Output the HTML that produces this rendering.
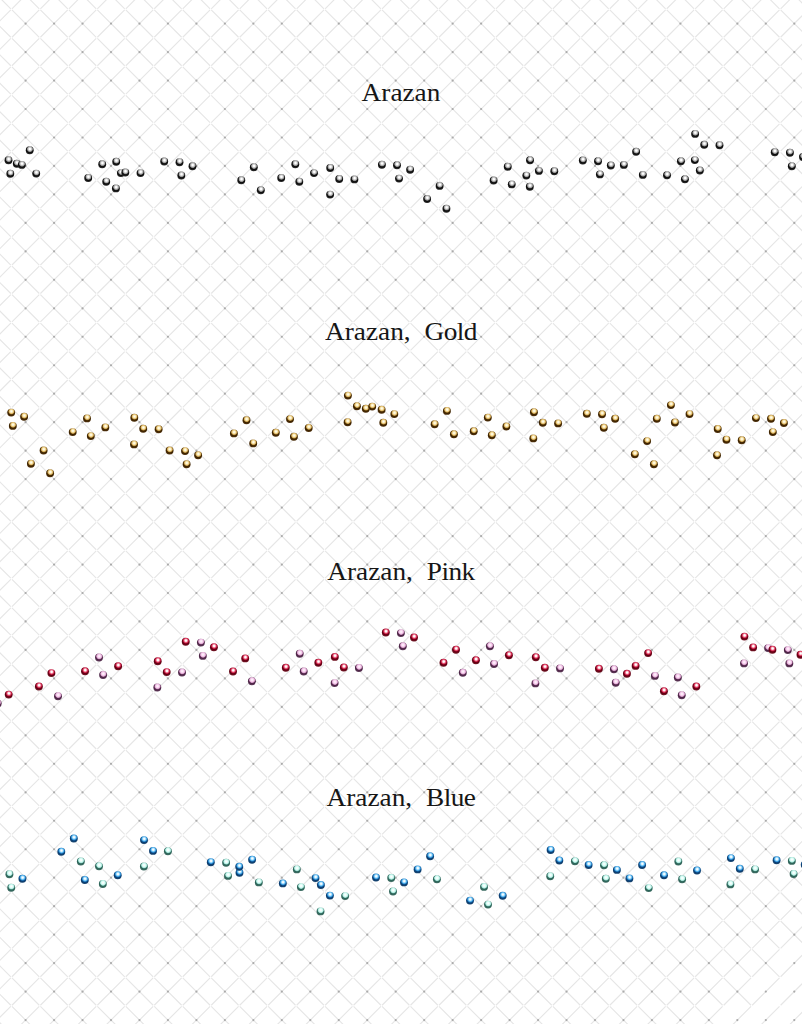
<!DOCTYPE html>
<html><head><meta charset="utf-8"><title>Arazan</title>
<style>
html,body{margin:0;padding:0;background:#fff;}
body{width:802px;height:1024px;position:relative;overflow:hidden;}
svg{position:absolute;left:0;top:0;}
.t{position:absolute;left:0;width:802px;text-align:center;font-family:"Liberation Serif","Noto Serif CJK SC",serif;font-size:25.5px;line-height:30px;transform:scaleX(1.07);word-spacing:6.6px;transform-origin:401px 0;color:#161616;white-space:pre;}
</style></head><body>
<svg width="802" height="1024" viewBox="0 0 802 1024">
<defs>
<radialGradient id="gs" cx="0.53" cy="0.34" r="0.58" fx="0.53" fy="0.34"><stop offset="0" stop-color="#ffffff"/><stop offset="0.15" stop-color="#ffffff"/><stop offset="0.32" stop-color="#d8d8d8"/><stop offset="0.48" stop-color="#a8a8a8"/><stop offset="0.58" stop-color="#848484"/><stop offset="0.67" stop-color="#2a2a2a"/><stop offset="0.8" stop-color="#0a0a0a"/><stop offset="1" stop-color="#222222"/></radialGradient>
<radialGradient id="gg" cx="0.53" cy="0.34" r="0.58" fx="0.53" fy="0.34"><stop offset="0" stop-color="#fffef4"/><stop offset="0.15" stop-color="#fff8dc"/><stop offset="0.32" stop-color="#f8e6b0"/><stop offset="0.48" stop-color="#e0bc6c"/><stop offset="0.58" stop-color="#bc9448"/><stop offset="0.67" stop-color="#6a460c"/><stop offset="0.8" stop-color="#3a2200"/><stop offset="1" stop-color="#4a2c08"/></radialGradient>
<radialGradient id="gr" cx="0.53" cy="0.34" r="0.58" fx="0.53" fy="0.34"><stop offset="0" stop-color="#ffffff"/><stop offset="0.18" stop-color="#fff2f4"/><stop offset="0.32" stop-color="#f4a4b6"/><stop offset="0.45" stop-color="#e04c6c"/><stop offset="0.57" stop-color="#c41c42"/><stop offset="0.67" stop-color="#8a0020"/><stop offset="0.8" stop-color="#5e0012"/><stop offset="1" stop-color="#6e1020"/></radialGradient>
<radialGradient id="gp" cx="0.53" cy="0.34" r="0.58" fx="0.53" fy="0.34"><stop offset="0" stop-color="#fff8fd"/><stop offset="0.22" stop-color="#fde4f7"/><stop offset="0.4" stop-color="#f4cbea"/><stop offset="0.52" stop-color="#e0aad4"/><stop offset="0.6" stop-color="#c088b4"/><stop offset="0.68" stop-color="#744068"/><stop offset="0.8" stop-color="#4a2244"/><stop offset="1" stop-color="#5a3454"/></radialGradient>
<radialGradient id="gb" cx="0.53" cy="0.34" r="0.58" fx="0.53" fy="0.34"><stop offset="0" stop-color="#ffffff"/><stop offset="0.16" stop-color="#eefaff"/><stop offset="0.34" stop-color="#a4dcfc"/><stop offset="0.48" stop-color="#58b4ec"/><stop offset="0.58" stop-color="#3090d4"/><stop offset="0.67" stop-color="#1466a8"/><stop offset="0.8" stop-color="#0a3e74"/><stop offset="1" stop-color="#14426e"/></radialGradient>
<radialGradient id="gt" cx="0.53" cy="0.34" r="0.58" fx="0.53" fy="0.34"><stop offset="0" stop-color="#ffffff"/><stop offset="0.2" stop-color="#f0fffd"/><stop offset="0.38" stop-color="#d6fcf4"/><stop offset="0.5" stop-color="#b8eee4"/><stop offset="0.59" stop-color="#98d6ca"/><stop offset="0.67" stop-color="#4e8c80"/><stop offset="0.8" stop-color="#2a6458"/><stop offset="1" stop-color="#3a6a60"/></radialGradient>
</defs>
<g>
<g stroke="#e6e6e6" stroke-width="1.15" stroke-dasharray="38.663 1.6" stroke-dashoffset="39.463" fill="none">
<line x1="-1639.89" y1="-588.51" x2="353.00" y2="1404.39"/><line x1="-1639.89" y1="-616.97" x2="353.00" y2="1375.93"/><line x1="-1611.42" y1="-616.98" x2="381.47" y2="1375.92"/><line x1="-1611.42" y1="-645.44" x2="381.48" y2="1347.45"/><line x1="-1582.95" y1="-645.45" x2="409.94" y2="1347.45"/><line x1="-1582.95" y1="-673.91" x2="409.95" y2="1318.99"/><line x1="-1554.49" y1="-673.92" x2="438.41" y2="1318.98"/><line x1="-1554.48" y1="-702.38" x2="438.42" y2="1290.51"/><line x1="-1526.02" y1="-702.38" x2="466.88" y2="1290.51"/><line x1="-1526.01" y1="-730.86" x2="466.89" y2="1262.05"/><line x1="-1497.55" y1="-730.86" x2="495.35" y2="1262.04"/><line x1="-1497.55" y1="-759.32" x2="495.36" y2="1233.58"/><line x1="-1469.08" y1="-759.33" x2="523.82" y2="1233.57"/><line x1="-1469.07" y1="-787.79" x2="523.83" y2="1205.11"/><line x1="-1440.61" y1="-787.80" x2="552.29" y2="1205.11"/><line x1="-1440.61" y1="-816.26" x2="552.30" y2="1176.63"/><line x1="-1412.13" y1="-816.27" x2="580.76" y2="1176.63"/><line x1="-1412.13" y1="-844.73" x2="580.77" y2="1148.16"/><line x1="-1383.66" y1="-844.74" x2="609.23" y2="1148.16"/><line x1="-1383.66" y1="-873.20" x2="609.24" y2="1119.70"/><line x1="-1355.20" y1="-873.21" x2="637.70" y2="1119.69"/><line x1="-1355.19" y1="-901.67" x2="637.71" y2="1091.22"/><line x1="-1326.72" y1="-901.68" x2="666.17" y2="1091.22"/><line x1="-1326.72" y1="-930.14" x2="666.18" y2="1062.76"/><line x1="-1298.26" y1="-930.14" x2="694.64" y2="1062.75"/><line x1="-1298.25" y1="-958.62" x2="694.64" y2="1034.29"/><line x1="-1269.79" y1="-958.62" x2="723.12" y2="1034.28"/><line x1="-1269.78" y1="-987.08" x2="723.12" y2="1005.82"/><line x1="-1241.32" y1="-987.09" x2="751.58" y2="1005.81"/><line x1="-1241.32" y1="-1015.55" x2="751.59" y2="977.35"/><line x1="-1212.85" y1="-1015.56" x2="780.05" y2="977.34"/><line x1="-1212.85" y1="-1044.02" x2="780.06" y2="948.88"/><line x1="-1184.38" y1="-1044.03" x2="808.52" y2="948.87"/><line x1="-1184.38" y1="-1072.49" x2="808.53" y2="920.40"/><line x1="-1155.90" y1="-1072.50" x2="836.99" y2="920.40"/><line x1="-1155.90" y1="-1100.96" x2="837.00" y2="891.94"/><line x1="-1127.43" y1="-1100.97" x2="865.46" y2="891.93"/><line x1="-1127.43" y1="-1129.43" x2="865.47" y2="863.47"/><line x1="-1098.97" y1="-1129.43" x2="893.93" y2="863.46"/><line x1="-1098.96" y1="-1157.90" x2="893.94" y2="835.00"/><line x1="-1070.50" y1="-1157.90" x2="922.40" y2="834.99"/><line x1="-1070.49" y1="-1186.38" x2="922.40" y2="806.53"/><line x1="-1042.03" y1="-1186.38" x2="950.87" y2="806.52"/><line x1="-1042.02" y1="-1214.85" x2="950.88" y2="778.06"/><line x1="-1013.56" y1="-1214.85" x2="979.34" y2="778.05"/><line x1="-1013.55" y1="-1243.32" x2="979.35" y2="749.59"/><line x1="-985.09" y1="-1243.32" x2="1007.81" y2="749.58"/><line x1="-985.08" y1="-1271.78" x2="1007.82" y2="721.12"/><line x1="-956.62" y1="-1271.79" x2="1036.28" y2="721.12"/><line x1="-956.62" y1="-1300.25" x2="1036.29" y2="692.64"/><line x1="-928.14" y1="-1300.26" x2="1064.75" y2="692.64"/><line x1="-928.14" y1="-1328.72" x2="1064.76" y2="664.18"/><line x1="-899.68" y1="-1328.72" x2="1093.22" y2="664.17"/><line x1="-899.67" y1="-1357.19" x2="1093.22" y2="635.71"/><line x1="-871.21" y1="-1357.20" x2="1121.69" y2="635.70"/><line x1="-871.20" y1="-1385.66" x2="1121.70" y2="607.24"/><line x1="-842.74" y1="-1385.66" x2="1150.16" y2="607.23"/><line x1="-842.73" y1="-1414.13" x2="1150.16" y2="578.77"/><line x1="-814.27" y1="-1414.13" x2="1178.63" y2="578.76"/><line x1="-814.26" y1="-1442.61" x2="1178.63" y2="550.30"/><line x1="-785.80" y1="-1442.61" x2="1207.11" y2="550.29"/><line x1="-785.79" y1="-1471.07" x2="1207.11" y2="521.83"/><line x1="-757.33" y1="-1471.08" x2="1235.57" y2="521.82"/><line x1="-757.32" y1="-1499.55" x2="1235.58" y2="493.36"/><line x1="-728.86" y1="-1499.55" x2="1264.04" y2="493.35"/><line x1="-728.86" y1="-1528.01" x2="1264.05" y2="464.89"/><line x1="-700.38" y1="-1528.02" x2="1292.51" y2="464.88"/><line x1="-1155.90" y1="1148.16" x2="837.00" y2="-844.74"/><line x1="-1127.43" y1="1148.16" x2="865.46" y2="-844.73"/><line x1="-1127.43" y1="1176.63" x2="865.47" y2="-816.26"/><line x1="-1098.96" y1="1176.63" x2="893.93" y2="-816.26"/><line x1="-1098.96" y1="1205.10" x2="893.94" y2="-787.79"/><line x1="-1070.49" y1="1205.11" x2="922.40" y2="-787.79"/><line x1="-1070.49" y1="1233.57" x2="922.40" y2="-759.33"/><line x1="-1042.02" y1="1233.58" x2="950.87" y2="-759.32"/><line x1="-1042.02" y1="1262.04" x2="950.88" y2="-730.86"/><line x1="-1013.55" y1="1262.05" x2="979.34" y2="-730.85"/><line x1="-1013.55" y1="1290.51" x2="979.35" y2="-702.38"/><line x1="-985.08" y1="1290.51" x2="1007.81" y2="-702.38"/><line x1="-985.08" y1="1318.98" x2="1007.82" y2="-673.91"/><line x1="-956.62" y1="1318.98" x2="1036.28" y2="-673.91"/><line x1="-956.61" y1="1347.45" x2="1036.29" y2="-645.45"/><line x1="-928.14" y1="1347.45" x2="1064.75" y2="-645.44"/><line x1="-928.14" y1="1375.92" x2="1064.76" y2="-616.98"/><line x1="-899.67" y1="1375.92" x2="1093.22" y2="-616.97"/><line x1="-899.67" y1="1404.39" x2="1093.22" y2="-588.50"/><line x1="-871.20" y1="1404.39" x2="1121.69" y2="-588.50"/><line x1="-871.20" y1="1432.86" x2="1121.70" y2="-560.03"/><line x1="-842.73" y1="1432.87" x2="1150.16" y2="-560.03"/><line x1="-842.73" y1="1461.33" x2="1150.16" y2="-531.57"/><line x1="-814.26" y1="1461.34" x2="1178.63" y2="-531.56"/><line x1="-814.26" y1="1489.80" x2="1178.63" y2="-503.10"/><line x1="-785.79" y1="1489.80" x2="1207.11" y2="-503.09"/><line x1="-785.79" y1="1518.27" x2="1207.11" y2="-474.62"/><line x1="-757.32" y1="1518.28" x2="1235.57" y2="-474.62"/><line x1="-757.32" y1="1546.74" x2="1235.58" y2="-446.15"/><line x1="-728.86" y1="1546.74" x2="1264.04" y2="-446.15"/><line x1="-728.85" y1="1575.21" x2="1264.05" y2="-417.69"/><line x1="-700.38" y1="1575.21" x2="1292.51" y2="-417.68"/><line x1="-700.38" y1="1603.68" x2="1292.51" y2="-389.22"/><line x1="-671.91" y1="1603.68" x2="1320.98" y2="-389.21"/><line x1="-671.91" y1="1632.15" x2="1320.99" y2="-360.75"/><line x1="-643.44" y1="1632.15" x2="1349.45" y2="-360.74"/><line x1="-643.44" y1="1660.62" x2="1349.45" y2="-332.27"/><line x1="-614.98" y1="1660.62" x2="1377.92" y2="-332.27"/><line x1="-614.97" y1="1689.09" x2="1377.93" y2="-303.80"/><line x1="-586.50" y1="1689.09" x2="1406.39" y2="-303.80"/><line x1="-586.50" y1="1717.56" x2="1406.39" y2="-275.34"/><line x1="-558.03" y1="1717.57" x2="1434.86" y2="-275.33"/><line x1="-558.03" y1="1746.03" x2="1434.87" y2="-246.87"/><line x1="-529.56" y1="1746.03" x2="1463.34" y2="-246.86"/><line x1="-529.56" y1="1774.50" x2="1463.34" y2="-218.39"/><line x1="-501.09" y1="1774.51" x2="1491.80" y2="-218.39"/><line x1="-501.09" y1="1802.97" x2="1491.80" y2="-189.93"/><line x1="-472.62" y1="1802.97" x2="1520.27" y2="-189.92"/><line x1="-472.62" y1="1831.44" x2="1520.28" y2="-161.46"/><line x1="-444.15" y1="1831.44" x2="1548.74" y2="-161.45"/><line x1="-444.15" y1="1859.91" x2="1548.74" y2="-132.99"/><line x1="-415.68" y1="1859.91" x2="1577.21" y2="-132.98"/><line x1="-415.68" y1="1888.38" x2="1577.22" y2="-104.51"/><line x1="-387.21" y1="1888.38" x2="1605.68" y2="-104.51"/><line x1="-387.21" y1="1916.86" x2="1605.68" y2="-76.04"/><line x1="-358.75" y1="1916.86" x2="1634.15" y2="-76.04"/><line x1="-358.74" y1="1945.32" x2="1634.15" y2="-47.58"/><line x1="-330.27" y1="1945.32" x2="1662.62" y2="-47.57"/><line x1="-330.27" y1="1973.79" x2="1662.62" y2="-19.11"/><line x1="-301.80" y1="1973.80" x2="1691.09" y2="-19.10"/><line x1="-301.80" y1="2002.26" x2="1691.10" y2="9.37"/><line x1="-273.33" y1="2002.26" x2="1719.57" y2="9.37"/><line x1="-273.33" y1="2030.73" x2="1719.57" y2="37.83"/><line x1="-244.87" y1="2030.73" x2="1748.03" y2="37.84"/><line x1="-244.86" y1="2059.20" x2="1748.03" y2="66.30"/><line x1="-216.39" y1="2059.20" x2="1776.50" y2="66.31"/>
</g>
<g fill="#aaaaaa">
<circle cx="25.60" cy="23.60" r="1.1"/><circle cx="25.60" cy="52.07" r="1.1"/><circle cx="25.60" cy="80.54" r="1.1"/><circle cx="25.60" cy="109.01" r="1.1"/><circle cx="25.60" cy="137.48" r="1.1"/><circle cx="25.60" cy="165.95" r="1.1"/><circle cx="25.60" cy="194.42" r="1.1"/><circle cx="25.60" cy="222.89" r="1.1"/><circle cx="25.60" cy="251.36" r="1.1"/><circle cx="25.60" cy="279.83" r="1.1"/><circle cx="25.60" cy="308.30" r="1.1"/><circle cx="25.60" cy="336.77" r="1.1"/><circle cx="25.60" cy="365.24" r="1.1"/><circle cx="25.60" cy="393.71" r="1.1"/><circle cx="25.60" cy="422.18" r="1.1"/><circle cx="25.60" cy="450.65" r="1.1"/><circle cx="25.60" cy="479.12" r="1.1"/><circle cx="25.60" cy="507.59" r="1.1"/><circle cx="25.60" cy="536.06" r="1.1"/><circle cx="25.60" cy="564.53" r="1.1"/><circle cx="25.60" cy="593.00" r="1.1"/><circle cx="25.60" cy="621.47" r="1.1"/><circle cx="25.60" cy="649.94" r="1.1"/><circle cx="25.60" cy="678.41" r="1.1"/><circle cx="25.60" cy="706.88" r="1.1"/><circle cx="25.60" cy="735.35" r="1.1"/><circle cx="25.60" cy="763.82" r="1.1"/><circle cx="25.60" cy="792.29" r="1.1"/><circle cx="25.60" cy="820.76" r="1.1"/><circle cx="25.60" cy="849.23" r="1.1"/><circle cx="25.60" cy="877.70" r="1.1"/><circle cx="25.60" cy="906.17" r="1.1"/><circle cx="25.60" cy="934.64" r="1.1"/><circle cx="25.60" cy="963.11" r="1.1"/><circle cx="25.60" cy="991.58" r="1.1"/><circle cx="25.60" cy="1020.05" r="1.1"/><circle cx="54.07" cy="23.60" r="1.1"/><circle cx="54.07" cy="52.07" r="1.1"/><circle cx="54.07" cy="80.54" r="1.1"/><circle cx="54.07" cy="109.01" r="1.1"/><circle cx="54.07" cy="137.48" r="1.1"/><circle cx="54.07" cy="165.95" r="1.1"/><circle cx="54.07" cy="194.42" r="1.1"/><circle cx="54.07" cy="222.89" r="1.1"/><circle cx="54.07" cy="251.36" r="1.1"/><circle cx="54.07" cy="279.83" r="1.1"/><circle cx="54.07" cy="308.30" r="1.1"/><circle cx="54.07" cy="336.77" r="1.1"/><circle cx="54.07" cy="365.24" r="1.1"/><circle cx="54.07" cy="393.71" r="1.1"/><circle cx="54.07" cy="422.18" r="1.1"/><circle cx="54.07" cy="450.65" r="1.1"/><circle cx="54.07" cy="479.12" r="1.1"/><circle cx="54.07" cy="507.59" r="1.1"/><circle cx="54.07" cy="536.06" r="1.1"/><circle cx="54.07" cy="564.53" r="1.1"/><circle cx="54.07" cy="593.00" r="1.1"/><circle cx="54.07" cy="621.47" r="1.1"/><circle cx="54.07" cy="649.94" r="1.1"/><circle cx="54.07" cy="678.41" r="1.1"/><circle cx="54.07" cy="706.88" r="1.1"/><circle cx="54.07" cy="735.35" r="1.1"/><circle cx="54.07" cy="763.82" r="1.1"/><circle cx="54.07" cy="792.29" r="1.1"/><circle cx="54.07" cy="820.76" r="1.1"/><circle cx="54.07" cy="849.23" r="1.1"/><circle cx="54.07" cy="877.70" r="1.1"/><circle cx="54.07" cy="906.17" r="1.1"/><circle cx="54.07" cy="934.64" r="1.1"/><circle cx="54.07" cy="963.11" r="1.1"/><circle cx="54.07" cy="991.58" r="1.1"/><circle cx="54.07" cy="1020.05" r="1.1"/><circle cx="82.54" cy="23.60" r="1.1"/><circle cx="82.54" cy="52.07" r="1.1"/><circle cx="82.54" cy="80.54" r="1.1"/><circle cx="82.54" cy="109.01" r="1.1"/><circle cx="82.54" cy="137.48" r="1.1"/><circle cx="82.54" cy="165.95" r="1.1"/><circle cx="82.54" cy="194.42" r="1.1"/><circle cx="82.54" cy="222.89" r="1.1"/><circle cx="82.54" cy="251.36" r="1.1"/><circle cx="82.54" cy="279.83" r="1.1"/><circle cx="82.54" cy="308.30" r="1.1"/><circle cx="82.54" cy="336.77" r="1.1"/><circle cx="82.54" cy="365.24" r="1.1"/><circle cx="82.54" cy="393.71" r="1.1"/><circle cx="82.54" cy="422.18" r="1.1"/><circle cx="82.54" cy="450.65" r="1.1"/><circle cx="82.54" cy="479.12" r="1.1"/><circle cx="82.54" cy="507.59" r="1.1"/><circle cx="82.54" cy="536.06" r="1.1"/><circle cx="82.54" cy="564.53" r="1.1"/><circle cx="82.54" cy="593.00" r="1.1"/><circle cx="82.54" cy="621.47" r="1.1"/><circle cx="82.54" cy="649.94" r="1.1"/><circle cx="82.54" cy="678.41" r="1.1"/><circle cx="82.54" cy="706.88" r="1.1"/><circle cx="82.54" cy="735.35" r="1.1"/><circle cx="82.54" cy="763.82" r="1.1"/><circle cx="82.54" cy="792.29" r="1.1"/><circle cx="82.54" cy="820.76" r="1.1"/><circle cx="82.54" cy="849.23" r="1.1"/><circle cx="82.54" cy="877.70" r="1.1"/><circle cx="82.54" cy="906.17" r="1.1"/><circle cx="82.54" cy="934.64" r="1.1"/><circle cx="82.54" cy="963.11" r="1.1"/><circle cx="82.54" cy="991.58" r="1.1"/><circle cx="82.54" cy="1020.05" r="1.1"/><circle cx="111.01" cy="23.60" r="1.1"/><circle cx="111.01" cy="52.07" r="1.1"/><circle cx="111.01" cy="80.54" r="1.1"/><circle cx="111.01" cy="109.01" r="1.1"/><circle cx="111.01" cy="137.48" r="1.1"/><circle cx="111.01" cy="165.95" r="1.1"/><circle cx="111.01" cy="194.42" r="1.1"/><circle cx="111.01" cy="222.89" r="1.1"/><circle cx="111.01" cy="251.36" r="1.1"/><circle cx="111.01" cy="279.83" r="1.1"/><circle cx="111.01" cy="308.30" r="1.1"/><circle cx="111.01" cy="336.77" r="1.1"/><circle cx="111.01" cy="365.24" r="1.1"/><circle cx="111.01" cy="393.71" r="1.1"/><circle cx="111.01" cy="422.18" r="1.1"/><circle cx="111.01" cy="450.65" r="1.1"/><circle cx="111.01" cy="479.12" r="1.1"/><circle cx="111.01" cy="507.59" r="1.1"/><circle cx="111.01" cy="536.06" r="1.1"/><circle cx="111.01" cy="564.53" r="1.1"/><circle cx="111.01" cy="593.00" r="1.1"/><circle cx="111.01" cy="621.47" r="1.1"/><circle cx="111.01" cy="649.94" r="1.1"/><circle cx="111.01" cy="678.41" r="1.1"/><circle cx="111.01" cy="706.88" r="1.1"/><circle cx="111.01" cy="735.35" r="1.1"/><circle cx="111.01" cy="763.82" r="1.1"/><circle cx="111.01" cy="792.29" r="1.1"/><circle cx="111.01" cy="820.76" r="1.1"/><circle cx="111.01" cy="849.23" r="1.1"/><circle cx="111.01" cy="877.70" r="1.1"/><circle cx="111.01" cy="906.17" r="1.1"/><circle cx="111.01" cy="934.64" r="1.1"/><circle cx="111.01" cy="963.11" r="1.1"/><circle cx="111.01" cy="991.58" r="1.1"/><circle cx="111.01" cy="1020.05" r="1.1"/><circle cx="139.48" cy="23.60" r="1.1"/><circle cx="139.48" cy="52.07" r="1.1"/><circle cx="139.48" cy="80.54" r="1.1"/><circle cx="139.48" cy="109.01" r="1.1"/><circle cx="139.48" cy="137.48" r="1.1"/><circle cx="139.48" cy="165.95" r="1.1"/><circle cx="139.48" cy="194.42" r="1.1"/><circle cx="139.48" cy="222.89" r="1.1"/><circle cx="139.48" cy="251.36" r="1.1"/><circle cx="139.48" cy="279.83" r="1.1"/><circle cx="139.48" cy="308.30" r="1.1"/><circle cx="139.48" cy="336.77" r="1.1"/><circle cx="139.48" cy="365.24" r="1.1"/><circle cx="139.48" cy="393.71" r="1.1"/><circle cx="139.48" cy="422.18" r="1.1"/><circle cx="139.48" cy="450.65" r="1.1"/><circle cx="139.48" cy="479.12" r="1.1"/><circle cx="139.48" cy="507.59" r="1.1"/><circle cx="139.48" cy="536.06" r="1.1"/><circle cx="139.48" cy="564.53" r="1.1"/><circle cx="139.48" cy="593.00" r="1.1"/><circle cx="139.48" cy="621.47" r="1.1"/><circle cx="139.48" cy="649.94" r="1.1"/><circle cx="139.48" cy="678.41" r="1.1"/><circle cx="139.48" cy="706.88" r="1.1"/><circle cx="139.48" cy="735.35" r="1.1"/><circle cx="139.48" cy="763.82" r="1.1"/><circle cx="139.48" cy="792.29" r="1.1"/><circle cx="139.48" cy="820.76" r="1.1"/><circle cx="139.48" cy="849.23" r="1.1"/><circle cx="139.48" cy="877.70" r="1.1"/><circle cx="139.48" cy="906.17" r="1.1"/><circle cx="139.48" cy="934.64" r="1.1"/><circle cx="139.48" cy="963.11" r="1.1"/><circle cx="139.48" cy="991.58" r="1.1"/><circle cx="139.48" cy="1020.05" r="1.1"/><circle cx="167.95" cy="23.60" r="1.1"/><circle cx="167.95" cy="52.07" r="1.1"/><circle cx="167.95" cy="80.54" r="1.1"/><circle cx="167.95" cy="109.01" r="1.1"/><circle cx="167.95" cy="137.48" r="1.1"/><circle cx="167.95" cy="165.95" r="1.1"/><circle cx="167.95" cy="194.42" r="1.1"/><circle cx="167.95" cy="222.89" r="1.1"/><circle cx="167.95" cy="251.36" r="1.1"/><circle cx="167.95" cy="279.83" r="1.1"/><circle cx="167.95" cy="308.30" r="1.1"/><circle cx="167.95" cy="336.77" r="1.1"/><circle cx="167.95" cy="365.24" r="1.1"/><circle cx="167.95" cy="393.71" r="1.1"/><circle cx="167.95" cy="422.18" r="1.1"/><circle cx="167.95" cy="450.65" r="1.1"/><circle cx="167.95" cy="479.12" r="1.1"/><circle cx="167.95" cy="507.59" r="1.1"/><circle cx="167.95" cy="536.06" r="1.1"/><circle cx="167.95" cy="564.53" r="1.1"/><circle cx="167.95" cy="593.00" r="1.1"/><circle cx="167.95" cy="621.47" r="1.1"/><circle cx="167.95" cy="649.94" r="1.1"/><circle cx="167.95" cy="678.41" r="1.1"/><circle cx="167.95" cy="706.88" r="1.1"/><circle cx="167.95" cy="735.35" r="1.1"/><circle cx="167.95" cy="763.82" r="1.1"/><circle cx="167.95" cy="792.29" r="1.1"/><circle cx="167.95" cy="820.76" r="1.1"/><circle cx="167.95" cy="849.23" r="1.1"/><circle cx="167.95" cy="877.70" r="1.1"/><circle cx="167.95" cy="906.17" r="1.1"/><circle cx="167.95" cy="934.64" r="1.1"/><circle cx="167.95" cy="963.11" r="1.1"/><circle cx="167.95" cy="991.58" r="1.1"/><circle cx="167.95" cy="1020.05" r="1.1"/><circle cx="196.42" cy="23.60" r="1.1"/><circle cx="196.42" cy="52.07" r="1.1"/><circle cx="196.42" cy="80.54" r="1.1"/><circle cx="196.42" cy="109.01" r="1.1"/><circle cx="196.42" cy="137.48" r="1.1"/><circle cx="196.42" cy="165.95" r="1.1"/><circle cx="196.42" cy="194.42" r="1.1"/><circle cx="196.42" cy="222.89" r="1.1"/><circle cx="196.42" cy="251.36" r="1.1"/><circle cx="196.42" cy="279.83" r="1.1"/><circle cx="196.42" cy="308.30" r="1.1"/><circle cx="196.42" cy="336.77" r="1.1"/><circle cx="196.42" cy="365.24" r="1.1"/><circle cx="196.42" cy="393.71" r="1.1"/><circle cx="196.42" cy="422.18" r="1.1"/><circle cx="196.42" cy="450.65" r="1.1"/><circle cx="196.42" cy="479.12" r="1.1"/><circle cx="196.42" cy="507.59" r="1.1"/><circle cx="196.42" cy="536.06" r="1.1"/><circle cx="196.42" cy="564.53" r="1.1"/><circle cx="196.42" cy="593.00" r="1.1"/><circle cx="196.42" cy="621.47" r="1.1"/><circle cx="196.42" cy="649.94" r="1.1"/><circle cx="196.42" cy="678.41" r="1.1"/><circle cx="196.42" cy="706.88" r="1.1"/><circle cx="196.42" cy="735.35" r="1.1"/><circle cx="196.42" cy="763.82" r="1.1"/><circle cx="196.42" cy="792.29" r="1.1"/><circle cx="196.42" cy="820.76" r="1.1"/><circle cx="196.42" cy="849.23" r="1.1"/><circle cx="196.42" cy="877.70" r="1.1"/><circle cx="196.42" cy="906.17" r="1.1"/><circle cx="196.42" cy="934.64" r="1.1"/><circle cx="196.42" cy="963.11" r="1.1"/><circle cx="196.42" cy="991.58" r="1.1"/><circle cx="196.42" cy="1020.05" r="1.1"/><circle cx="224.89" cy="23.60" r="1.1"/><circle cx="224.89" cy="52.07" r="1.1"/><circle cx="224.89" cy="80.54" r="1.1"/><circle cx="224.89" cy="109.01" r="1.1"/><circle cx="224.89" cy="137.48" r="1.1"/><circle cx="224.89" cy="165.95" r="1.1"/><circle cx="224.89" cy="194.42" r="1.1"/><circle cx="224.89" cy="222.89" r="1.1"/><circle cx="224.89" cy="251.36" r="1.1"/><circle cx="224.89" cy="279.83" r="1.1"/><circle cx="224.89" cy="308.30" r="1.1"/><circle cx="224.89" cy="336.77" r="1.1"/><circle cx="224.89" cy="365.24" r="1.1"/><circle cx="224.89" cy="393.71" r="1.1"/><circle cx="224.89" cy="422.18" r="1.1"/><circle cx="224.89" cy="450.65" r="1.1"/><circle cx="224.89" cy="479.12" r="1.1"/><circle cx="224.89" cy="507.59" r="1.1"/><circle cx="224.89" cy="536.06" r="1.1"/><circle cx="224.89" cy="564.53" r="1.1"/><circle cx="224.89" cy="593.00" r="1.1"/><circle cx="224.89" cy="621.47" r="1.1"/><circle cx="224.89" cy="649.94" r="1.1"/><circle cx="224.89" cy="678.41" r="1.1"/><circle cx="224.89" cy="706.88" r="1.1"/><circle cx="224.89" cy="735.35" r="1.1"/><circle cx="224.89" cy="763.82" r="1.1"/><circle cx="224.89" cy="792.29" r="1.1"/><circle cx="224.89" cy="820.76" r="1.1"/><circle cx="224.89" cy="849.23" r="1.1"/><circle cx="224.89" cy="877.70" r="1.1"/><circle cx="224.89" cy="906.17" r="1.1"/><circle cx="224.89" cy="934.64" r="1.1"/><circle cx="224.89" cy="963.11" r="1.1"/><circle cx="224.89" cy="991.58" r="1.1"/><circle cx="224.89" cy="1020.05" r="1.1"/><circle cx="253.36" cy="23.60" r="1.1"/><circle cx="253.36" cy="52.07" r="1.1"/><circle cx="253.36" cy="80.54" r="1.1"/><circle cx="253.36" cy="109.01" r="1.1"/><circle cx="253.36" cy="137.48" r="1.1"/><circle cx="253.36" cy="165.95" r="1.1"/><circle cx="253.36" cy="194.42" r="1.1"/><circle cx="253.36" cy="222.89" r="1.1"/><circle cx="253.36" cy="251.36" r="1.1"/><circle cx="253.36" cy="279.83" r="1.1"/><circle cx="253.36" cy="308.30" r="1.1"/><circle cx="253.36" cy="336.77" r="1.1"/><circle cx="253.36" cy="365.24" r="1.1"/><circle cx="253.36" cy="393.71" r="1.1"/><circle cx="253.36" cy="422.18" r="1.1"/><circle cx="253.36" cy="450.65" r="1.1"/><circle cx="253.36" cy="479.12" r="1.1"/><circle cx="253.36" cy="507.59" r="1.1"/><circle cx="253.36" cy="536.06" r="1.1"/><circle cx="253.36" cy="564.53" r="1.1"/><circle cx="253.36" cy="593.00" r="1.1"/><circle cx="253.36" cy="621.47" r="1.1"/><circle cx="253.36" cy="649.94" r="1.1"/><circle cx="253.36" cy="678.41" r="1.1"/><circle cx="253.36" cy="706.88" r="1.1"/><circle cx="253.36" cy="735.35" r="1.1"/><circle cx="253.36" cy="763.82" r="1.1"/><circle cx="253.36" cy="792.29" r="1.1"/><circle cx="253.36" cy="820.76" r="1.1"/><circle cx="253.36" cy="849.23" r="1.1"/><circle cx="253.36" cy="877.70" r="1.1"/><circle cx="253.36" cy="906.17" r="1.1"/><circle cx="253.36" cy="934.64" r="1.1"/><circle cx="253.36" cy="963.11" r="1.1"/><circle cx="253.36" cy="991.58" r="1.1"/><circle cx="253.36" cy="1020.05" r="1.1"/><circle cx="281.83" cy="23.60" r="1.1"/><circle cx="281.83" cy="52.07" r="1.1"/><circle cx="281.83" cy="80.54" r="1.1"/><circle cx="281.83" cy="109.01" r="1.1"/><circle cx="281.83" cy="137.48" r="1.1"/><circle cx="281.83" cy="165.95" r="1.1"/><circle cx="281.83" cy="194.42" r="1.1"/><circle cx="281.83" cy="222.89" r="1.1"/><circle cx="281.83" cy="251.36" r="1.1"/><circle cx="281.83" cy="279.83" r="1.1"/><circle cx="281.83" cy="308.30" r="1.1"/><circle cx="281.83" cy="336.77" r="1.1"/><circle cx="281.83" cy="365.24" r="1.1"/><circle cx="281.83" cy="393.71" r="1.1"/><circle cx="281.83" cy="422.18" r="1.1"/><circle cx="281.83" cy="450.65" r="1.1"/><circle cx="281.83" cy="479.12" r="1.1"/><circle cx="281.83" cy="507.59" r="1.1"/><circle cx="281.83" cy="536.06" r="1.1"/><circle cx="281.83" cy="564.53" r="1.1"/><circle cx="281.83" cy="593.00" r="1.1"/><circle cx="281.83" cy="621.47" r="1.1"/><circle cx="281.83" cy="649.94" r="1.1"/><circle cx="281.83" cy="678.41" r="1.1"/><circle cx="281.83" cy="706.88" r="1.1"/><circle cx="281.83" cy="735.35" r="1.1"/><circle cx="281.83" cy="763.82" r="1.1"/><circle cx="281.83" cy="792.29" r="1.1"/><circle cx="281.83" cy="820.76" r="1.1"/><circle cx="281.83" cy="849.23" r="1.1"/><circle cx="281.83" cy="877.70" r="1.1"/><circle cx="281.83" cy="906.17" r="1.1"/><circle cx="281.83" cy="934.64" r="1.1"/><circle cx="281.83" cy="963.11" r="1.1"/><circle cx="281.83" cy="991.58" r="1.1"/><circle cx="281.83" cy="1020.05" r="1.1"/><circle cx="310.30" cy="23.60" r="1.1"/><circle cx="310.30" cy="52.07" r="1.1"/><circle cx="310.30" cy="80.54" r="1.1"/><circle cx="310.30" cy="109.01" r="1.1"/><circle cx="310.30" cy="137.48" r="1.1"/><circle cx="310.30" cy="165.95" r="1.1"/><circle cx="310.30" cy="194.42" r="1.1"/><circle cx="310.30" cy="222.89" r="1.1"/><circle cx="310.30" cy="251.36" r="1.1"/><circle cx="310.30" cy="279.83" r="1.1"/><circle cx="310.30" cy="308.30" r="1.1"/><circle cx="310.30" cy="336.77" r="1.1"/><circle cx="310.30" cy="365.24" r="1.1"/><circle cx="310.30" cy="393.71" r="1.1"/><circle cx="310.30" cy="422.18" r="1.1"/><circle cx="310.30" cy="450.65" r="1.1"/><circle cx="310.30" cy="479.12" r="1.1"/><circle cx="310.30" cy="507.59" r="1.1"/><circle cx="310.30" cy="536.06" r="1.1"/><circle cx="310.30" cy="564.53" r="1.1"/><circle cx="310.30" cy="593.00" r="1.1"/><circle cx="310.30" cy="621.47" r="1.1"/><circle cx="310.30" cy="649.94" r="1.1"/><circle cx="310.30" cy="678.41" r="1.1"/><circle cx="310.30" cy="706.88" r="1.1"/><circle cx="310.30" cy="735.35" r="1.1"/><circle cx="310.30" cy="763.82" r="1.1"/><circle cx="310.30" cy="792.29" r="1.1"/><circle cx="310.30" cy="820.76" r="1.1"/><circle cx="310.30" cy="849.23" r="1.1"/><circle cx="310.30" cy="877.70" r="1.1"/><circle cx="310.30" cy="906.17" r="1.1"/><circle cx="310.30" cy="934.64" r="1.1"/><circle cx="310.30" cy="963.11" r="1.1"/><circle cx="310.30" cy="991.58" r="1.1"/><circle cx="310.30" cy="1020.05" r="1.1"/><circle cx="338.77" cy="23.60" r="1.1"/><circle cx="338.77" cy="52.07" r="1.1"/><circle cx="338.77" cy="80.54" r="1.1"/><circle cx="338.77" cy="109.01" r="1.1"/><circle cx="338.77" cy="137.48" r="1.1"/><circle cx="338.77" cy="165.95" r="1.1"/><circle cx="338.77" cy="194.42" r="1.1"/><circle cx="338.77" cy="222.89" r="1.1"/><circle cx="338.77" cy="251.36" r="1.1"/><circle cx="338.77" cy="279.83" r="1.1"/><circle cx="338.77" cy="308.30" r="1.1"/><circle cx="338.77" cy="336.77" r="1.1"/><circle cx="338.77" cy="365.24" r="1.1"/><circle cx="338.77" cy="393.71" r="1.1"/><circle cx="338.77" cy="422.18" r="1.1"/><circle cx="338.77" cy="450.65" r="1.1"/><circle cx="338.77" cy="479.12" r="1.1"/><circle cx="338.77" cy="507.59" r="1.1"/><circle cx="338.77" cy="536.06" r="1.1"/><circle cx="338.77" cy="564.53" r="1.1"/><circle cx="338.77" cy="593.00" r="1.1"/><circle cx="338.77" cy="621.47" r="1.1"/><circle cx="338.77" cy="649.94" r="1.1"/><circle cx="338.77" cy="678.41" r="1.1"/><circle cx="338.77" cy="706.88" r="1.1"/><circle cx="338.77" cy="735.35" r="1.1"/><circle cx="338.77" cy="763.82" r="1.1"/><circle cx="338.77" cy="792.29" r="1.1"/><circle cx="338.77" cy="820.76" r="1.1"/><circle cx="338.77" cy="849.23" r="1.1"/><circle cx="338.77" cy="877.70" r="1.1"/><circle cx="338.77" cy="906.17" r="1.1"/><circle cx="338.77" cy="934.64" r="1.1"/><circle cx="338.77" cy="963.11" r="1.1"/><circle cx="338.77" cy="991.58" r="1.1"/><circle cx="338.77" cy="1020.05" r="1.1"/><circle cx="367.24" cy="23.60" r="1.1"/><circle cx="367.24" cy="52.07" r="1.1"/><circle cx="367.24" cy="80.54" r="1.1"/><circle cx="367.24" cy="109.01" r="1.1"/><circle cx="367.24" cy="137.48" r="1.1"/><circle cx="367.24" cy="165.95" r="1.1"/><circle cx="367.24" cy="194.42" r="1.1"/><circle cx="367.24" cy="222.89" r="1.1"/><circle cx="367.24" cy="251.36" r="1.1"/><circle cx="367.24" cy="279.83" r="1.1"/><circle cx="367.24" cy="308.30" r="1.1"/><circle cx="367.24" cy="336.77" r="1.1"/><circle cx="367.24" cy="365.24" r="1.1"/><circle cx="367.24" cy="393.71" r="1.1"/><circle cx="367.24" cy="422.18" r="1.1"/><circle cx="367.24" cy="450.65" r="1.1"/><circle cx="367.24" cy="479.12" r="1.1"/><circle cx="367.24" cy="507.59" r="1.1"/><circle cx="367.24" cy="536.06" r="1.1"/><circle cx="367.24" cy="564.53" r="1.1"/><circle cx="367.24" cy="593.00" r="1.1"/><circle cx="367.24" cy="621.47" r="1.1"/><circle cx="367.24" cy="649.94" r="1.1"/><circle cx="367.24" cy="678.41" r="1.1"/><circle cx="367.24" cy="706.88" r="1.1"/><circle cx="367.24" cy="735.35" r="1.1"/><circle cx="367.24" cy="763.82" r="1.1"/><circle cx="367.24" cy="792.29" r="1.1"/><circle cx="367.24" cy="820.76" r="1.1"/><circle cx="367.24" cy="849.23" r="1.1"/><circle cx="367.24" cy="877.70" r="1.1"/><circle cx="367.24" cy="906.17" r="1.1"/><circle cx="367.24" cy="934.64" r="1.1"/><circle cx="367.24" cy="963.11" r="1.1"/><circle cx="367.24" cy="991.58" r="1.1"/><circle cx="367.24" cy="1020.05" r="1.1"/><circle cx="395.71" cy="23.60" r="1.1"/><circle cx="395.71" cy="52.07" r="1.1"/><circle cx="395.71" cy="80.54" r="1.1"/><circle cx="395.71" cy="109.01" r="1.1"/><circle cx="395.71" cy="137.48" r="1.1"/><circle cx="395.71" cy="165.95" r="1.1"/><circle cx="395.71" cy="194.42" r="1.1"/><circle cx="395.71" cy="222.89" r="1.1"/><circle cx="395.71" cy="251.36" r="1.1"/><circle cx="395.71" cy="279.83" r="1.1"/><circle cx="395.71" cy="308.30" r="1.1"/><circle cx="395.71" cy="336.77" r="1.1"/><circle cx="395.71" cy="365.24" r="1.1"/><circle cx="395.71" cy="393.71" r="1.1"/><circle cx="395.71" cy="422.18" r="1.1"/><circle cx="395.71" cy="450.65" r="1.1"/><circle cx="395.71" cy="479.12" r="1.1"/><circle cx="395.71" cy="507.59" r="1.1"/><circle cx="395.71" cy="536.06" r="1.1"/><circle cx="395.71" cy="564.53" r="1.1"/><circle cx="395.71" cy="593.00" r="1.1"/><circle cx="395.71" cy="621.47" r="1.1"/><circle cx="395.71" cy="649.94" r="1.1"/><circle cx="395.71" cy="678.41" r="1.1"/><circle cx="395.71" cy="706.88" r="1.1"/><circle cx="395.71" cy="735.35" r="1.1"/><circle cx="395.71" cy="763.82" r="1.1"/><circle cx="395.71" cy="792.29" r="1.1"/><circle cx="395.71" cy="820.76" r="1.1"/><circle cx="395.71" cy="849.23" r="1.1"/><circle cx="395.71" cy="877.70" r="1.1"/><circle cx="395.71" cy="906.17" r="1.1"/><circle cx="395.71" cy="934.64" r="1.1"/><circle cx="395.71" cy="963.11" r="1.1"/><circle cx="395.71" cy="991.58" r="1.1"/><circle cx="395.71" cy="1020.05" r="1.1"/><circle cx="424.18" cy="23.60" r="1.1"/><circle cx="424.18" cy="52.07" r="1.1"/><circle cx="424.18" cy="80.54" r="1.1"/><circle cx="424.18" cy="109.01" r="1.1"/><circle cx="424.18" cy="137.48" r="1.1"/><circle cx="424.18" cy="165.95" r="1.1"/><circle cx="424.18" cy="194.42" r="1.1"/><circle cx="424.18" cy="222.89" r="1.1"/><circle cx="424.18" cy="251.36" r="1.1"/><circle cx="424.18" cy="279.83" r="1.1"/><circle cx="424.18" cy="308.30" r="1.1"/><circle cx="424.18" cy="336.77" r="1.1"/><circle cx="424.18" cy="365.24" r="1.1"/><circle cx="424.18" cy="393.71" r="1.1"/><circle cx="424.18" cy="422.18" r="1.1"/><circle cx="424.18" cy="450.65" r="1.1"/><circle cx="424.18" cy="479.12" r="1.1"/><circle cx="424.18" cy="507.59" r="1.1"/><circle cx="424.18" cy="536.06" r="1.1"/><circle cx="424.18" cy="564.53" r="1.1"/><circle cx="424.18" cy="593.00" r="1.1"/><circle cx="424.18" cy="621.47" r="1.1"/><circle cx="424.18" cy="649.94" r="1.1"/><circle cx="424.18" cy="678.41" r="1.1"/><circle cx="424.18" cy="706.88" r="1.1"/><circle cx="424.18" cy="735.35" r="1.1"/><circle cx="424.18" cy="763.82" r="1.1"/><circle cx="424.18" cy="792.29" r="1.1"/><circle cx="424.18" cy="820.76" r="1.1"/><circle cx="424.18" cy="849.23" r="1.1"/><circle cx="424.18" cy="877.70" r="1.1"/><circle cx="424.18" cy="906.17" r="1.1"/><circle cx="424.18" cy="934.64" r="1.1"/><circle cx="424.18" cy="963.11" r="1.1"/><circle cx="424.18" cy="991.58" r="1.1"/><circle cx="424.18" cy="1020.05" r="1.1"/><circle cx="452.65" cy="23.60" r="1.1"/><circle cx="452.65" cy="52.07" r="1.1"/><circle cx="452.65" cy="80.54" r="1.1"/><circle cx="452.65" cy="109.01" r="1.1"/><circle cx="452.65" cy="137.48" r="1.1"/><circle cx="452.65" cy="165.95" r="1.1"/><circle cx="452.65" cy="194.42" r="1.1"/><circle cx="452.65" cy="222.89" r="1.1"/><circle cx="452.65" cy="251.36" r="1.1"/><circle cx="452.65" cy="279.83" r="1.1"/><circle cx="452.65" cy="308.30" r="1.1"/><circle cx="452.65" cy="336.77" r="1.1"/><circle cx="452.65" cy="365.24" r="1.1"/><circle cx="452.65" cy="393.71" r="1.1"/><circle cx="452.65" cy="422.18" r="1.1"/><circle cx="452.65" cy="450.65" r="1.1"/><circle cx="452.65" cy="479.12" r="1.1"/><circle cx="452.65" cy="507.59" r="1.1"/><circle cx="452.65" cy="536.06" r="1.1"/><circle cx="452.65" cy="564.53" r="1.1"/><circle cx="452.65" cy="593.00" r="1.1"/><circle cx="452.65" cy="621.47" r="1.1"/><circle cx="452.65" cy="649.94" r="1.1"/><circle cx="452.65" cy="678.41" r="1.1"/><circle cx="452.65" cy="706.88" r="1.1"/><circle cx="452.65" cy="735.35" r="1.1"/><circle cx="452.65" cy="763.82" r="1.1"/><circle cx="452.65" cy="792.29" r="1.1"/><circle cx="452.65" cy="820.76" r="1.1"/><circle cx="452.65" cy="849.23" r="1.1"/><circle cx="452.65" cy="877.70" r="1.1"/><circle cx="452.65" cy="906.17" r="1.1"/><circle cx="452.65" cy="934.64" r="1.1"/><circle cx="452.65" cy="963.11" r="1.1"/><circle cx="452.65" cy="991.58" r="1.1"/><circle cx="452.65" cy="1020.05" r="1.1"/><circle cx="481.12" cy="23.60" r="1.1"/><circle cx="481.12" cy="52.07" r="1.1"/><circle cx="481.12" cy="80.54" r="1.1"/><circle cx="481.12" cy="109.01" r="1.1"/><circle cx="481.12" cy="137.48" r="1.1"/><circle cx="481.12" cy="165.95" r="1.1"/><circle cx="481.12" cy="194.42" r="1.1"/><circle cx="481.12" cy="222.89" r="1.1"/><circle cx="481.12" cy="251.36" r="1.1"/><circle cx="481.12" cy="279.83" r="1.1"/><circle cx="481.12" cy="308.30" r="1.1"/><circle cx="481.12" cy="336.77" r="1.1"/><circle cx="481.12" cy="365.24" r="1.1"/><circle cx="481.12" cy="393.71" r="1.1"/><circle cx="481.12" cy="422.18" r="1.1"/><circle cx="481.12" cy="450.65" r="1.1"/><circle cx="481.12" cy="479.12" r="1.1"/><circle cx="481.12" cy="507.59" r="1.1"/><circle cx="481.12" cy="536.06" r="1.1"/><circle cx="481.12" cy="564.53" r="1.1"/><circle cx="481.12" cy="593.00" r="1.1"/><circle cx="481.12" cy="621.47" r="1.1"/><circle cx="481.12" cy="649.94" r="1.1"/><circle cx="481.12" cy="678.41" r="1.1"/><circle cx="481.12" cy="706.88" r="1.1"/><circle cx="481.12" cy="735.35" r="1.1"/><circle cx="481.12" cy="763.82" r="1.1"/><circle cx="481.12" cy="792.29" r="1.1"/><circle cx="481.12" cy="820.76" r="1.1"/><circle cx="481.12" cy="849.23" r="1.1"/><circle cx="481.12" cy="877.70" r="1.1"/><circle cx="481.12" cy="906.17" r="1.1"/><circle cx="481.12" cy="934.64" r="1.1"/><circle cx="481.12" cy="963.11" r="1.1"/><circle cx="481.12" cy="991.58" r="1.1"/><circle cx="481.12" cy="1020.05" r="1.1"/><circle cx="509.59" cy="23.60" r="1.1"/><circle cx="509.59" cy="52.07" r="1.1"/><circle cx="509.59" cy="80.54" r="1.1"/><circle cx="509.59" cy="109.01" r="1.1"/><circle cx="509.59" cy="137.48" r="1.1"/><circle cx="509.59" cy="165.95" r="1.1"/><circle cx="509.59" cy="194.42" r="1.1"/><circle cx="509.59" cy="222.89" r="1.1"/><circle cx="509.59" cy="251.36" r="1.1"/><circle cx="509.59" cy="279.83" r="1.1"/><circle cx="509.59" cy="308.30" r="1.1"/><circle cx="509.59" cy="336.77" r="1.1"/><circle cx="509.59" cy="365.24" r="1.1"/><circle cx="509.59" cy="393.71" r="1.1"/><circle cx="509.59" cy="422.18" r="1.1"/><circle cx="509.59" cy="450.65" r="1.1"/><circle cx="509.59" cy="479.12" r="1.1"/><circle cx="509.59" cy="507.59" r="1.1"/><circle cx="509.59" cy="536.06" r="1.1"/><circle cx="509.59" cy="564.53" r="1.1"/><circle cx="509.59" cy="593.00" r="1.1"/><circle cx="509.59" cy="621.47" r="1.1"/><circle cx="509.59" cy="649.94" r="1.1"/><circle cx="509.59" cy="678.41" r="1.1"/><circle cx="509.59" cy="706.88" r="1.1"/><circle cx="509.59" cy="735.35" r="1.1"/><circle cx="509.59" cy="763.82" r="1.1"/><circle cx="509.59" cy="792.29" r="1.1"/><circle cx="509.59" cy="820.76" r="1.1"/><circle cx="509.59" cy="849.23" r="1.1"/><circle cx="509.59" cy="877.70" r="1.1"/><circle cx="509.59" cy="906.17" r="1.1"/><circle cx="509.59" cy="934.64" r="1.1"/><circle cx="509.59" cy="963.11" r="1.1"/><circle cx="509.59" cy="991.58" r="1.1"/><circle cx="509.59" cy="1020.05" r="1.1"/><circle cx="538.06" cy="23.60" r="1.1"/><circle cx="538.06" cy="52.07" r="1.1"/><circle cx="538.06" cy="80.54" r="1.1"/><circle cx="538.06" cy="109.01" r="1.1"/><circle cx="538.06" cy="137.48" r="1.1"/><circle cx="538.06" cy="165.95" r="1.1"/><circle cx="538.06" cy="194.42" r="1.1"/><circle cx="538.06" cy="222.89" r="1.1"/><circle cx="538.06" cy="251.36" r="1.1"/><circle cx="538.06" cy="279.83" r="1.1"/><circle cx="538.06" cy="308.30" r="1.1"/><circle cx="538.06" cy="336.77" r="1.1"/><circle cx="538.06" cy="365.24" r="1.1"/><circle cx="538.06" cy="393.71" r="1.1"/><circle cx="538.06" cy="422.18" r="1.1"/><circle cx="538.06" cy="450.65" r="1.1"/><circle cx="538.06" cy="479.12" r="1.1"/><circle cx="538.06" cy="507.59" r="1.1"/><circle cx="538.06" cy="536.06" r="1.1"/><circle cx="538.06" cy="564.53" r="1.1"/><circle cx="538.06" cy="593.00" r="1.1"/><circle cx="538.06" cy="621.47" r="1.1"/><circle cx="538.06" cy="649.94" r="1.1"/><circle cx="538.06" cy="678.41" r="1.1"/><circle cx="538.06" cy="706.88" r="1.1"/><circle cx="538.06" cy="735.35" r="1.1"/><circle cx="538.06" cy="763.82" r="1.1"/><circle cx="538.06" cy="792.29" r="1.1"/><circle cx="538.06" cy="820.76" r="1.1"/><circle cx="538.06" cy="849.23" r="1.1"/><circle cx="538.06" cy="877.70" r="1.1"/><circle cx="538.06" cy="906.17" r="1.1"/><circle cx="538.06" cy="934.64" r="1.1"/><circle cx="538.06" cy="963.11" r="1.1"/><circle cx="538.06" cy="991.58" r="1.1"/><circle cx="538.06" cy="1020.05" r="1.1"/><circle cx="566.53" cy="23.60" r="1.1"/><circle cx="566.53" cy="52.07" r="1.1"/><circle cx="566.53" cy="80.54" r="1.1"/><circle cx="566.53" cy="109.01" r="1.1"/><circle cx="566.53" cy="137.48" r="1.1"/><circle cx="566.53" cy="165.95" r="1.1"/><circle cx="566.53" cy="194.42" r="1.1"/><circle cx="566.53" cy="222.89" r="1.1"/><circle cx="566.53" cy="251.36" r="1.1"/><circle cx="566.53" cy="279.83" r="1.1"/><circle cx="566.53" cy="308.30" r="1.1"/><circle cx="566.53" cy="336.77" r="1.1"/><circle cx="566.53" cy="365.24" r="1.1"/><circle cx="566.53" cy="393.71" r="1.1"/><circle cx="566.53" cy="422.18" r="1.1"/><circle cx="566.53" cy="450.65" r="1.1"/><circle cx="566.53" cy="479.12" r="1.1"/><circle cx="566.53" cy="507.59" r="1.1"/><circle cx="566.53" cy="536.06" r="1.1"/><circle cx="566.53" cy="564.53" r="1.1"/><circle cx="566.53" cy="593.00" r="1.1"/><circle cx="566.53" cy="621.47" r="1.1"/><circle cx="566.53" cy="649.94" r="1.1"/><circle cx="566.53" cy="678.41" r="1.1"/><circle cx="566.53" cy="706.88" r="1.1"/><circle cx="566.53" cy="735.35" r="1.1"/><circle cx="566.53" cy="763.82" r="1.1"/><circle cx="566.53" cy="792.29" r="1.1"/><circle cx="566.53" cy="820.76" r="1.1"/><circle cx="566.53" cy="849.23" r="1.1"/><circle cx="566.53" cy="877.70" r="1.1"/><circle cx="566.53" cy="906.17" r="1.1"/><circle cx="566.53" cy="934.64" r="1.1"/><circle cx="566.53" cy="963.11" r="1.1"/><circle cx="566.53" cy="991.58" r="1.1"/><circle cx="566.53" cy="1020.05" r="1.1"/><circle cx="595.00" cy="23.60" r="1.1"/><circle cx="595.00" cy="52.07" r="1.1"/><circle cx="595.00" cy="80.54" r="1.1"/><circle cx="595.00" cy="109.01" r="1.1"/><circle cx="595.00" cy="137.48" r="1.1"/><circle cx="595.00" cy="165.95" r="1.1"/><circle cx="595.00" cy="194.42" r="1.1"/><circle cx="595.00" cy="222.89" r="1.1"/><circle cx="595.00" cy="251.36" r="1.1"/><circle cx="595.00" cy="279.83" r="1.1"/><circle cx="595.00" cy="308.30" r="1.1"/><circle cx="595.00" cy="336.77" r="1.1"/><circle cx="595.00" cy="365.24" r="1.1"/><circle cx="595.00" cy="393.71" r="1.1"/><circle cx="595.00" cy="422.18" r="1.1"/><circle cx="595.00" cy="450.65" r="1.1"/><circle cx="595.00" cy="479.12" r="1.1"/><circle cx="595.00" cy="507.59" r="1.1"/><circle cx="595.00" cy="536.06" r="1.1"/><circle cx="595.00" cy="564.53" r="1.1"/><circle cx="595.00" cy="593.00" r="1.1"/><circle cx="595.00" cy="621.47" r="1.1"/><circle cx="595.00" cy="649.94" r="1.1"/><circle cx="595.00" cy="678.41" r="1.1"/><circle cx="595.00" cy="706.88" r="1.1"/><circle cx="595.00" cy="735.35" r="1.1"/><circle cx="595.00" cy="763.82" r="1.1"/><circle cx="595.00" cy="792.29" r="1.1"/><circle cx="595.00" cy="820.76" r="1.1"/><circle cx="595.00" cy="849.23" r="1.1"/><circle cx="595.00" cy="877.70" r="1.1"/><circle cx="595.00" cy="906.17" r="1.1"/><circle cx="595.00" cy="934.64" r="1.1"/><circle cx="595.00" cy="963.11" r="1.1"/><circle cx="595.00" cy="991.58" r="1.1"/><circle cx="595.00" cy="1020.05" r="1.1"/><circle cx="623.47" cy="23.60" r="1.1"/><circle cx="623.47" cy="52.07" r="1.1"/><circle cx="623.47" cy="80.54" r="1.1"/><circle cx="623.47" cy="109.01" r="1.1"/><circle cx="623.47" cy="137.48" r="1.1"/><circle cx="623.47" cy="165.95" r="1.1"/><circle cx="623.47" cy="194.42" r="1.1"/><circle cx="623.47" cy="222.89" r="1.1"/><circle cx="623.47" cy="251.36" r="1.1"/><circle cx="623.47" cy="279.83" r="1.1"/><circle cx="623.47" cy="308.30" r="1.1"/><circle cx="623.47" cy="336.77" r="1.1"/><circle cx="623.47" cy="365.24" r="1.1"/><circle cx="623.47" cy="393.71" r="1.1"/><circle cx="623.47" cy="422.18" r="1.1"/><circle cx="623.47" cy="450.65" r="1.1"/><circle cx="623.47" cy="479.12" r="1.1"/><circle cx="623.47" cy="507.59" r="1.1"/><circle cx="623.47" cy="536.06" r="1.1"/><circle cx="623.47" cy="564.53" r="1.1"/><circle cx="623.47" cy="593.00" r="1.1"/><circle cx="623.47" cy="621.47" r="1.1"/><circle cx="623.47" cy="649.94" r="1.1"/><circle cx="623.47" cy="678.41" r="1.1"/><circle cx="623.47" cy="706.88" r="1.1"/><circle cx="623.47" cy="735.35" r="1.1"/><circle cx="623.47" cy="763.82" r="1.1"/><circle cx="623.47" cy="792.29" r="1.1"/><circle cx="623.47" cy="820.76" r="1.1"/><circle cx="623.47" cy="849.23" r="1.1"/><circle cx="623.47" cy="877.70" r="1.1"/><circle cx="623.47" cy="906.17" r="1.1"/><circle cx="623.47" cy="934.64" r="1.1"/><circle cx="623.47" cy="963.11" r="1.1"/><circle cx="623.47" cy="991.58" r="1.1"/><circle cx="623.47" cy="1020.05" r="1.1"/><circle cx="651.94" cy="23.60" r="1.1"/><circle cx="651.94" cy="52.07" r="1.1"/><circle cx="651.94" cy="80.54" r="1.1"/><circle cx="651.94" cy="109.01" r="1.1"/><circle cx="651.94" cy="137.48" r="1.1"/><circle cx="651.94" cy="165.95" r="1.1"/><circle cx="651.94" cy="194.42" r="1.1"/><circle cx="651.94" cy="222.89" r="1.1"/><circle cx="651.94" cy="251.36" r="1.1"/><circle cx="651.94" cy="279.83" r="1.1"/><circle cx="651.94" cy="308.30" r="1.1"/><circle cx="651.94" cy="336.77" r="1.1"/><circle cx="651.94" cy="365.24" r="1.1"/><circle cx="651.94" cy="393.71" r="1.1"/><circle cx="651.94" cy="422.18" r="1.1"/><circle cx="651.94" cy="450.65" r="1.1"/><circle cx="651.94" cy="479.12" r="1.1"/><circle cx="651.94" cy="507.59" r="1.1"/><circle cx="651.94" cy="536.06" r="1.1"/><circle cx="651.94" cy="564.53" r="1.1"/><circle cx="651.94" cy="593.00" r="1.1"/><circle cx="651.94" cy="621.47" r="1.1"/><circle cx="651.94" cy="649.94" r="1.1"/><circle cx="651.94" cy="678.41" r="1.1"/><circle cx="651.94" cy="706.88" r="1.1"/><circle cx="651.94" cy="735.35" r="1.1"/><circle cx="651.94" cy="763.82" r="1.1"/><circle cx="651.94" cy="792.29" r="1.1"/><circle cx="651.94" cy="820.76" r="1.1"/><circle cx="651.94" cy="849.23" r="1.1"/><circle cx="651.94" cy="877.70" r="1.1"/><circle cx="651.94" cy="906.17" r="1.1"/><circle cx="651.94" cy="934.64" r="1.1"/><circle cx="651.94" cy="963.11" r="1.1"/><circle cx="651.94" cy="991.58" r="1.1"/><circle cx="651.94" cy="1020.05" r="1.1"/><circle cx="680.41" cy="23.60" r="1.1"/><circle cx="680.41" cy="52.07" r="1.1"/><circle cx="680.41" cy="80.54" r="1.1"/><circle cx="680.41" cy="109.01" r="1.1"/><circle cx="680.41" cy="137.48" r="1.1"/><circle cx="680.41" cy="165.95" r="1.1"/><circle cx="680.41" cy="194.42" r="1.1"/><circle cx="680.41" cy="222.89" r="1.1"/><circle cx="680.41" cy="251.36" r="1.1"/><circle cx="680.41" cy="279.83" r="1.1"/><circle cx="680.41" cy="308.30" r="1.1"/><circle cx="680.41" cy="336.77" r="1.1"/><circle cx="680.41" cy="365.24" r="1.1"/><circle cx="680.41" cy="393.71" r="1.1"/><circle cx="680.41" cy="422.18" r="1.1"/><circle cx="680.41" cy="450.65" r="1.1"/><circle cx="680.41" cy="479.12" r="1.1"/><circle cx="680.41" cy="507.59" r="1.1"/><circle cx="680.41" cy="536.06" r="1.1"/><circle cx="680.41" cy="564.53" r="1.1"/><circle cx="680.41" cy="593.00" r="1.1"/><circle cx="680.41" cy="621.47" r="1.1"/><circle cx="680.41" cy="649.94" r="1.1"/><circle cx="680.41" cy="678.41" r="1.1"/><circle cx="680.41" cy="706.88" r="1.1"/><circle cx="680.41" cy="735.35" r="1.1"/><circle cx="680.41" cy="763.82" r="1.1"/><circle cx="680.41" cy="792.29" r="1.1"/><circle cx="680.41" cy="820.76" r="1.1"/><circle cx="680.41" cy="849.23" r="1.1"/><circle cx="680.41" cy="877.70" r="1.1"/><circle cx="680.41" cy="906.17" r="1.1"/><circle cx="680.41" cy="934.64" r="1.1"/><circle cx="680.41" cy="963.11" r="1.1"/><circle cx="680.41" cy="991.58" r="1.1"/><circle cx="680.41" cy="1020.05" r="1.1"/><circle cx="708.88" cy="23.60" r="1.1"/><circle cx="708.88" cy="52.07" r="1.1"/><circle cx="708.88" cy="80.54" r="1.1"/><circle cx="708.88" cy="109.01" r="1.1"/><circle cx="708.88" cy="137.48" r="1.1"/><circle cx="708.88" cy="165.95" r="1.1"/><circle cx="708.88" cy="194.42" r="1.1"/><circle cx="708.88" cy="222.89" r="1.1"/><circle cx="708.88" cy="251.36" r="1.1"/><circle cx="708.88" cy="279.83" r="1.1"/><circle cx="708.88" cy="308.30" r="1.1"/><circle cx="708.88" cy="336.77" r="1.1"/><circle cx="708.88" cy="365.24" r="1.1"/><circle cx="708.88" cy="393.71" r="1.1"/><circle cx="708.88" cy="422.18" r="1.1"/><circle cx="708.88" cy="450.65" r="1.1"/><circle cx="708.88" cy="479.12" r="1.1"/><circle cx="708.88" cy="507.59" r="1.1"/><circle cx="708.88" cy="536.06" r="1.1"/><circle cx="708.88" cy="564.53" r="1.1"/><circle cx="708.88" cy="593.00" r="1.1"/><circle cx="708.88" cy="621.47" r="1.1"/><circle cx="708.88" cy="649.94" r="1.1"/><circle cx="708.88" cy="678.41" r="1.1"/><circle cx="708.88" cy="706.88" r="1.1"/><circle cx="708.88" cy="735.35" r="1.1"/><circle cx="708.88" cy="763.82" r="1.1"/><circle cx="708.88" cy="792.29" r="1.1"/><circle cx="708.88" cy="820.76" r="1.1"/><circle cx="708.88" cy="849.23" r="1.1"/><circle cx="708.88" cy="877.70" r="1.1"/><circle cx="708.88" cy="906.17" r="1.1"/><circle cx="708.88" cy="934.64" r="1.1"/><circle cx="708.88" cy="963.11" r="1.1"/><circle cx="708.88" cy="991.58" r="1.1"/><circle cx="708.88" cy="1020.05" r="1.1"/><circle cx="737.35" cy="23.60" r="1.1"/><circle cx="737.35" cy="52.07" r="1.1"/><circle cx="737.35" cy="80.54" r="1.1"/><circle cx="737.35" cy="109.01" r="1.1"/><circle cx="737.35" cy="137.48" r="1.1"/><circle cx="737.35" cy="165.95" r="1.1"/><circle cx="737.35" cy="194.42" r="1.1"/><circle cx="737.35" cy="222.89" r="1.1"/><circle cx="737.35" cy="251.36" r="1.1"/><circle cx="737.35" cy="279.83" r="1.1"/><circle cx="737.35" cy="308.30" r="1.1"/><circle cx="737.35" cy="336.77" r="1.1"/><circle cx="737.35" cy="365.24" r="1.1"/><circle cx="737.35" cy="393.71" r="1.1"/><circle cx="737.35" cy="422.18" r="1.1"/><circle cx="737.35" cy="450.65" r="1.1"/><circle cx="737.35" cy="479.12" r="1.1"/><circle cx="737.35" cy="507.59" r="1.1"/><circle cx="737.35" cy="536.06" r="1.1"/><circle cx="737.35" cy="564.53" r="1.1"/><circle cx="737.35" cy="593.00" r="1.1"/><circle cx="737.35" cy="621.47" r="1.1"/><circle cx="737.35" cy="649.94" r="1.1"/><circle cx="737.35" cy="678.41" r="1.1"/><circle cx="737.35" cy="706.88" r="1.1"/><circle cx="737.35" cy="735.35" r="1.1"/><circle cx="737.35" cy="763.82" r="1.1"/><circle cx="737.35" cy="792.29" r="1.1"/><circle cx="737.35" cy="820.76" r="1.1"/><circle cx="737.35" cy="849.23" r="1.1"/><circle cx="737.35" cy="877.70" r="1.1"/><circle cx="737.35" cy="906.17" r="1.1"/><circle cx="737.35" cy="934.64" r="1.1"/><circle cx="737.35" cy="963.11" r="1.1"/><circle cx="737.35" cy="991.58" r="1.1"/><circle cx="737.35" cy="1020.05" r="1.1"/><circle cx="765.82" cy="23.60" r="1.1"/><circle cx="765.82" cy="52.07" r="1.1"/><circle cx="765.82" cy="80.54" r="1.1"/><circle cx="765.82" cy="109.01" r="1.1"/><circle cx="765.82" cy="137.48" r="1.1"/><circle cx="765.82" cy="165.95" r="1.1"/><circle cx="765.82" cy="194.42" r="1.1"/><circle cx="765.82" cy="222.89" r="1.1"/><circle cx="765.82" cy="251.36" r="1.1"/><circle cx="765.82" cy="279.83" r="1.1"/><circle cx="765.82" cy="308.30" r="1.1"/><circle cx="765.82" cy="336.77" r="1.1"/><circle cx="765.82" cy="365.24" r="1.1"/><circle cx="765.82" cy="393.71" r="1.1"/><circle cx="765.82" cy="422.18" r="1.1"/><circle cx="765.82" cy="450.65" r="1.1"/><circle cx="765.82" cy="479.12" r="1.1"/><circle cx="765.82" cy="507.59" r="1.1"/><circle cx="765.82" cy="536.06" r="1.1"/><circle cx="765.82" cy="564.53" r="1.1"/><circle cx="765.82" cy="593.00" r="1.1"/><circle cx="765.82" cy="621.47" r="1.1"/><circle cx="765.82" cy="649.94" r="1.1"/><circle cx="765.82" cy="678.41" r="1.1"/><circle cx="765.82" cy="706.88" r="1.1"/><circle cx="765.82" cy="735.35" r="1.1"/><circle cx="765.82" cy="763.82" r="1.1"/><circle cx="765.82" cy="792.29" r="1.1"/><circle cx="765.82" cy="820.76" r="1.1"/><circle cx="765.82" cy="849.23" r="1.1"/><circle cx="765.82" cy="877.70" r="1.1"/><circle cx="765.82" cy="906.17" r="1.1"/><circle cx="765.82" cy="934.64" r="1.1"/><circle cx="765.82" cy="963.11" r="1.1"/><circle cx="765.82" cy="991.58" r="1.1"/><circle cx="765.82" cy="1020.05" r="1.1"/><circle cx="794.29" cy="23.60" r="1.1"/><circle cx="794.29" cy="52.07" r="1.1"/><circle cx="794.29" cy="80.54" r="1.1"/><circle cx="794.29" cy="109.01" r="1.1"/><circle cx="794.29" cy="137.48" r="1.1"/><circle cx="794.29" cy="165.95" r="1.1"/><circle cx="794.29" cy="194.42" r="1.1"/><circle cx="794.29" cy="222.89" r="1.1"/><circle cx="794.29" cy="251.36" r="1.1"/><circle cx="794.29" cy="279.83" r="1.1"/><circle cx="794.29" cy="308.30" r="1.1"/><circle cx="794.29" cy="336.77" r="1.1"/><circle cx="794.29" cy="365.24" r="1.1"/><circle cx="794.29" cy="393.71" r="1.1"/><circle cx="794.29" cy="422.18" r="1.1"/><circle cx="794.29" cy="450.65" r="1.1"/><circle cx="794.29" cy="479.12" r="1.1"/><circle cx="794.29" cy="507.59" r="1.1"/><circle cx="794.29" cy="536.06" r="1.1"/><circle cx="794.29" cy="564.53" r="1.1"/><circle cx="794.29" cy="593.00" r="1.1"/><circle cx="794.29" cy="621.47" r="1.1"/><circle cx="794.29" cy="649.94" r="1.1"/><circle cx="794.29" cy="678.41" r="1.1"/><circle cx="794.29" cy="706.88" r="1.1"/><circle cx="794.29" cy="735.35" r="1.1"/><circle cx="794.29" cy="763.82" r="1.1"/><circle cx="794.29" cy="792.29" r="1.1"/><circle cx="794.29" cy="820.76" r="1.1"/><circle cx="794.29" cy="849.23" r="1.1"/><circle cx="794.29" cy="877.70" r="1.1"/><circle cx="794.29" cy="906.17" r="1.1"/><circle cx="794.29" cy="934.64" r="1.1"/><circle cx="794.29" cy="963.11" r="1.1"/><circle cx="794.29" cy="991.58" r="1.1"/><circle cx="794.29" cy="1020.05" r="1.1"/>
</g>
</g>
<g>
<circle cx="29.7" cy="150.3" r="3.95" fill="url(#gs)"/><circle cx="8.5" cy="160.3" r="3.95" fill="url(#gs)"/><circle cx="16.8" cy="163.8" r="3.95" fill="url(#gs)"/><circle cx="21.8" cy="164.9" r="3.95" fill="url(#gs)"/><circle cx="10.3" cy="173.8" r="3.95" fill="url(#gs)"/><circle cx="36.2" cy="173.6" r="3.95" fill="url(#gs)"/><circle cx="88.2" cy="178.0" r="3.95" fill="url(#gs)"/><circle cx="102.2" cy="164.3" r="3.95" fill="url(#gs)"/><circle cx="116.2" cy="161.8" r="3.95" fill="url(#gs)"/><circle cx="106.2" cy="181.7" r="3.95" fill="url(#gs)"/><circle cx="115.9" cy="188.4" r="3.95" fill="url(#gs)"/><circle cx="120.9" cy="173.1" r="3.95" fill="url(#gs)"/><circle cx="125.3" cy="172.5" r="3.95" fill="url(#gs)"/><circle cx="140.5" cy="173.1" r="3.95" fill="url(#gs)"/><circle cx="164.2" cy="161.5" r="3.95" fill="url(#gs)"/><circle cx="179.5" cy="162.2" r="3.95" fill="url(#gs)"/><circle cx="181.3" cy="175.5" r="3.95" fill="url(#gs)"/><circle cx="192.5" cy="166.3" r="3.95" fill="url(#gs)"/><circle cx="253.8" cy="167.2" r="3.95" fill="url(#gs)"/><circle cx="241.3" cy="180.3" r="3.95" fill="url(#gs)"/><circle cx="260.8" cy="190.2" r="3.95" fill="url(#gs)"/><circle cx="281.2" cy="178.0" r="3.95" fill="url(#gs)"/><circle cx="295.3" cy="164.3" r="3.95" fill="url(#gs)"/><circle cx="299.3" cy="181.7" r="3.95" fill="url(#gs)"/><circle cx="314" cy="173.1" r="3.95" fill="url(#gs)"/><circle cx="330.2" cy="168.0" r="3.95" fill="url(#gs)"/><circle cx="339.2" cy="179.0" r="3.95" fill="url(#gs)"/><circle cx="354.4" cy="179.4" r="3.95" fill="url(#gs)"/><circle cx="330.1" cy="194.6" r="3.95" fill="url(#gs)"/><circle cx="381.9" cy="164.7" r="3.95" fill="url(#gs)"/><circle cx="397" cy="165.3" r="3.95" fill="url(#gs)"/><circle cx="410.1" cy="169.7" r="3.95" fill="url(#gs)"/><circle cx="399" cy="178.6" r="3.95" fill="url(#gs)"/><circle cx="439.6" cy="185.9" r="3.95" fill="url(#gs)"/><circle cx="427.1" cy="199.0" r="3.95" fill="url(#gs)"/><circle cx="446.4" cy="208.7" r="3.95" fill="url(#gs)"/><circle cx="493.6" cy="180.5" r="3.95" fill="url(#gs)"/><circle cx="507.7" cy="166.8" r="3.95" fill="url(#gs)"/><circle cx="511.7" cy="184.4" r="3.95" fill="url(#gs)"/><circle cx="530" cy="160.3" r="3.95" fill="url(#gs)"/><circle cx="526.3" cy="175.6" r="3.95" fill="url(#gs)"/><circle cx="538.9" cy="170.9" r="3.95" fill="url(#gs)"/><circle cx="529.8" cy="186.7" r="3.95" fill="url(#gs)"/><circle cx="554.3" cy="171.3" r="3.95" fill="url(#gs)"/><circle cx="582.8" cy="160.5" r="3.95" fill="url(#gs)"/><circle cx="598" cy="161.3" r="3.95" fill="url(#gs)"/><circle cx="599.9" cy="174.4" r="3.95" fill="url(#gs)"/><circle cx="610.8" cy="165.5" r="3.95" fill="url(#gs)"/><circle cx="623.8" cy="164.9" r="3.95" fill="url(#gs)"/><circle cx="636.1" cy="151.8" r="3.95" fill="url(#gs)"/><circle cx="642.8" cy="174.9" r="3.95" fill="url(#gs)"/><circle cx="667" cy="175.3" r="3.95" fill="url(#gs)"/><circle cx="680.9" cy="161.3" r="3.95" fill="url(#gs)"/><circle cx="684.9" cy="179.3" r="3.95" fill="url(#gs)"/><circle cx="694.8" cy="160.1" r="3.95" fill="url(#gs)"/><circle cx="699.8" cy="170.5" r="3.95" fill="url(#gs)"/><circle cx="695.1" cy="133.9" r="3.95" fill="url(#gs)"/><circle cx="704.2" cy="144.8" r="3.95" fill="url(#gs)"/><circle cx="719.5" cy="145.3" r="3.95" fill="url(#gs)"/><circle cx="774.7" cy="152.2" r="3.95" fill="url(#gs)"/><circle cx="789.9" cy="152.8" r="3.95" fill="url(#gs)"/><circle cx="791.8" cy="166.2" r="3.95" fill="url(#gs)"/><circle cx="803" cy="157.0" r="3.95" fill="url(#gs)"/>
<circle cx="11.2" cy="412.6" r="3.95" fill="url(#gg)"/><circle cx="24.1" cy="416.8" r="3.95" fill="url(#gg)"/><circle cx="12.8" cy="425.9" r="3.95" fill="url(#gg)"/><circle cx="87" cy="418.4" r="3.95" fill="url(#gg)"/><circle cx="72.7" cy="432.1" r="3.95" fill="url(#gg)"/><circle cx="90.8" cy="436.1" r="3.95" fill="url(#gg)"/><circle cx="43.6" cy="450.5" r="3.95" fill="url(#gg)"/><circle cx="30.9" cy="463.7" r="3.95" fill="url(#gg)"/><circle cx="50.1" cy="473.3" r="3.95" fill="url(#gg)"/><circle cx="105.3" cy="427.4" r="3.95" fill="url(#gg)"/><circle cx="134.3" cy="417.8" r="3.95" fill="url(#gg)"/><circle cx="143.2" cy="428.8" r="3.95" fill="url(#gg)"/><circle cx="158.6" cy="429.3" r="3.95" fill="url(#gg)"/><circle cx="134" cy="444.4" r="3.95" fill="url(#gg)"/><circle cx="169.6" cy="450.5" r="3.95" fill="url(#gg)"/><circle cx="185" cy="451.1" r="3.95" fill="url(#gg)"/><circle cx="186.6" cy="464.2" r="3.95" fill="url(#gg)"/><circle cx="198.1" cy="455.2" r="3.95" fill="url(#gg)"/><circle cx="233.9" cy="433.4" r="3.95" fill="url(#gg)"/><circle cx="246.5" cy="420.3" r="3.95" fill="url(#gg)"/><circle cx="253.2" cy="443.4" r="3.95" fill="url(#gg)"/><circle cx="275.8" cy="432.8" r="3.95" fill="url(#gg)"/><circle cx="290" cy="419.1" r="3.95" fill="url(#gg)"/><circle cx="293.9" cy="436.8" r="3.95" fill="url(#gg)"/><circle cx="308.7" cy="428.0" r="3.95" fill="url(#gg)"/><circle cx="347.9" cy="395.6" r="3.95" fill="url(#gg)"/><circle cx="347.6" cy="422.2" r="3.95" fill="url(#gg)"/><circle cx="356.9" cy="406.2" r="3.95" fill="url(#gg)"/><circle cx="365.8" cy="408.8" r="3.95" fill="url(#gg)"/><circle cx="372.2" cy="406.6" r="3.95" fill="url(#gg)"/><circle cx="381.6" cy="409.7" r="3.95" fill="url(#gg)"/><circle cx="394.3" cy="414.1" r="3.95" fill="url(#gg)"/><circle cx="383.3" cy="422.8" r="3.95" fill="url(#gg)"/><circle cx="446.9" cy="410.9" r="3.95" fill="url(#gg)"/><circle cx="434.6" cy="424.3" r="3.95" fill="url(#gg)"/><circle cx="453.9" cy="434.3" r="3.95" fill="url(#gg)"/><circle cx="473.7" cy="431.3" r="3.95" fill="url(#gg)"/><circle cx="487.8" cy="417.6" r="3.95" fill="url(#gg)"/><circle cx="491.8" cy="435.3" r="3.95" fill="url(#gg)"/><circle cx="506.4" cy="426.5" r="3.95" fill="url(#gg)"/><circle cx="533.9" cy="412.2" r="3.95" fill="url(#gg)"/><circle cx="542.8" cy="422.8" r="3.95" fill="url(#gg)"/><circle cx="533.3" cy="438.4" r="3.95" fill="url(#gg)"/><circle cx="558.1" cy="423.4" r="3.95" fill="url(#gg)"/><circle cx="586.8" cy="413.8" r="3.95" fill="url(#gg)"/><circle cx="602" cy="414.3" r="3.95" fill="url(#gg)"/><circle cx="615.1" cy="418.8" r="3.95" fill="url(#gg)"/><circle cx="603.8" cy="427.8" r="3.95" fill="url(#gg)"/><circle cx="634.8" cy="454.3" r="3.95" fill="url(#gg)"/><circle cx="647.1" cy="441.1" r="3.95" fill="url(#gg)"/><circle cx="653.9" cy="464.2" r="3.95" fill="url(#gg)"/><circle cx="656.8" cy="418.8" r="3.95" fill="url(#gg)"/><circle cx="670.9" cy="405.1" r="3.95" fill="url(#gg)"/><circle cx="674.9" cy="422.5" r="3.95" fill="url(#gg)"/><circle cx="689.5" cy="414.1" r="3.95" fill="url(#gg)"/><circle cx="717.7" cy="429.0" r="3.95" fill="url(#gg)"/><circle cx="726.4" cy="439.7" r="3.95" fill="url(#gg)"/><circle cx="717" cy="455.3" r="3.95" fill="url(#gg)"/><circle cx="741.7" cy="440.3" r="3.95" fill="url(#gg)"/><circle cx="755.9" cy="418.1" r="3.95" fill="url(#gg)"/><circle cx="771" cy="418.8" r="3.95" fill="url(#gg)"/><circle cx="772.8" cy="432.1" r="3.95" fill="url(#gg)"/><circle cx="783.9" cy="423.0" r="3.95" fill="url(#gg)"/>
<circle cx="-2.3" cy="703.5" r="3.95" fill="url(#gp)"/><circle cx="8.7" cy="694.6" r="3.95" fill="url(#gr)"/><circle cx="38.9" cy="686.5" r="3.95" fill="url(#gr)"/><circle cx="51.4" cy="673.1" r="3.95" fill="url(#gr)"/><circle cx="58" cy="696.2" r="3.95" fill="url(#gp)"/><circle cx="85" cy="671.3" r="3.95" fill="url(#gr)"/><circle cx="99" cy="657.5" r="3.95" fill="url(#gp)"/><circle cx="103.1" cy="675.0" r="3.95" fill="url(#gp)"/><circle cx="118.1" cy="666.3" r="3.95" fill="url(#gr)"/><circle cx="157.7" cy="661.3" r="3.95" fill="url(#gr)"/><circle cx="166.7" cy="672.1" r="3.95" fill="url(#gr)"/><circle cx="157.3" cy="687.5" r="3.95" fill="url(#gp)"/><circle cx="182" cy="672.5" r="3.95" fill="url(#gp)"/><circle cx="185.7" cy="641.8" r="3.95" fill="url(#gr)"/><circle cx="200.9" cy="642.6" r="3.95" fill="url(#gp)"/><circle cx="213.9" cy="647.2" r="3.95" fill="url(#gr)"/><circle cx="202.8" cy="655.9" r="3.95" fill="url(#gp)"/><circle cx="245.2" cy="658.4" r="3.95" fill="url(#gr)"/><circle cx="233" cy="671.5" r="3.95" fill="url(#gr)"/><circle cx="251.9" cy="681.2" r="3.95" fill="url(#gp)"/><circle cx="285.8" cy="667.8" r="3.95" fill="url(#gr)"/><circle cx="299.7" cy="653.8" r="3.95" fill="url(#gp)"/><circle cx="303.7" cy="671.5" r="3.95" fill="url(#gp)"/><circle cx="318.3" cy="662.8" r="3.95" fill="url(#gr)"/><circle cx="334.8" cy="656.9" r="3.95" fill="url(#gr)"/><circle cx="343.8" cy="667.5" r="3.95" fill="url(#gr)"/><circle cx="334.6" cy="683.1" r="3.95" fill="url(#gp)"/><circle cx="358.9" cy="668.0" r="3.95" fill="url(#gp)"/><circle cx="385.8" cy="632.5" r="3.95" fill="url(#gr)"/><circle cx="400.9" cy="633.1" r="3.95" fill="url(#gp)"/><circle cx="414" cy="637.5" r="3.95" fill="url(#gr)"/><circle cx="402.8" cy="646.3" r="3.95" fill="url(#gp)"/><circle cx="456" cy="649.7" r="3.95" fill="url(#gr)"/><circle cx="443.5" cy="662.8" r="3.95" fill="url(#gr)"/><circle cx="462.8" cy="672.8" r="3.95" fill="url(#gp)"/><circle cx="475.9" cy="660.3" r="3.95" fill="url(#gr)"/><circle cx="489.9" cy="646.3" r="3.95" fill="url(#gp)"/><circle cx="494" cy="664.0" r="3.95" fill="url(#gp)"/><circle cx="508.9" cy="655.3" r="3.95" fill="url(#gr)"/><circle cx="535.8" cy="657.2" r="3.95" fill="url(#gr)"/><circle cx="544.8" cy="667.8" r="3.95" fill="url(#gr)"/><circle cx="535.4" cy="683.4" r="3.95" fill="url(#gp)"/><circle cx="560" cy="668.4" r="3.95" fill="url(#gp)"/><circle cx="598.9" cy="668.8" r="3.95" fill="url(#gr)"/><circle cx="613.9" cy="669.3" r="3.95" fill="url(#gp)"/><circle cx="626.9" cy="673.8" r="3.95" fill="url(#gr)"/><circle cx="615.7" cy="682.7" r="3.95" fill="url(#gp)"/><circle cx="635.6" cy="665.9" r="3.95" fill="url(#gr)"/><circle cx="648.1" cy="653.1" r="3.95" fill="url(#gr)"/><circle cx="654.9" cy="675.9" r="3.95" fill="url(#gp)"/><circle cx="663.9" cy="691.2" r="3.95" fill="url(#gr)"/><circle cx="677.8" cy="677.5" r="3.95" fill="url(#gp)"/><circle cx="681.7" cy="695.2" r="3.95" fill="url(#gp)"/><circle cx="696.3" cy="686.5" r="3.95" fill="url(#gr)"/><circle cx="744.4" cy="636.6" r="3.95" fill="url(#gr)"/><circle cx="753.1" cy="647.4" r="3.95" fill="url(#gr)"/><circle cx="768.1" cy="648.1" r="3.95" fill="url(#gp)"/><circle cx="772.4" cy="649.7" r="3.95" fill="url(#gr)"/><circle cx="787.8" cy="650.1" r="3.95" fill="url(#gp)"/><circle cx="800.5" cy="654.7" r="3.95" fill="url(#gr)"/><circle cx="744" cy="663.4" r="3.95" fill="url(#gp)"/><circle cx="789.3" cy="663.4" r="3.95" fill="url(#gp)"/>
<circle cx="9.4" cy="874.3" r="3.95" fill="url(#gt)"/><circle cx="11.2" cy="887.7" r="3.95" fill="url(#gt)"/><circle cx="22.4" cy="878.8" r="3.95" fill="url(#gb)"/><circle cx="73.8" cy="838.5" r="3.95" fill="url(#gb)"/><circle cx="61.3" cy="851.8" r="3.95" fill="url(#gb)"/><circle cx="80.8" cy="861.5" r="3.95" fill="url(#gt)"/><circle cx="84.8" cy="880.0" r="3.95" fill="url(#gb)"/><circle cx="99" cy="866.3" r="3.95" fill="url(#gt)"/><circle cx="102.8" cy="884.0" r="3.95" fill="url(#gt)"/><circle cx="117.7" cy="875.3" r="3.95" fill="url(#gb)"/><circle cx="144" cy="840.1" r="3.95" fill="url(#gb)"/><circle cx="153" cy="850.9" r="3.95" fill="url(#gb)"/><circle cx="167.9" cy="851.3" r="3.95" fill="url(#gt)"/><circle cx="143.9" cy="866.5" r="3.95" fill="url(#gt)"/><circle cx="210.8" cy="862.2" r="3.95" fill="url(#gb)"/><circle cx="226.1" cy="862.8" r="3.95" fill="url(#gt)"/><circle cx="239.5" cy="872.8" r="3.95" fill="url(#gb)"/><circle cx="239.2" cy="866.8" r="3.95" fill="url(#gb)"/><circle cx="228" cy="875.9" r="3.95" fill="url(#gt)"/><circle cx="252.1" cy="859.7" r="3.95" fill="url(#gb)"/><circle cx="258.8" cy="882.4" r="3.95" fill="url(#gt)"/><circle cx="282.8" cy="883.4" r="3.95" fill="url(#gb)"/><circle cx="296.8" cy="869.4" r="3.95" fill="url(#gt)"/><circle cx="300.9" cy="887.1" r="3.95" fill="url(#gt)"/><circle cx="315.5" cy="878.1" r="3.95" fill="url(#gb)"/><circle cx="320.9" cy="885.0" r="3.95" fill="url(#gb)"/><circle cx="329.9" cy="895.6" r="3.95" fill="url(#gb)"/><circle cx="345.1" cy="896.1" r="3.95" fill="url(#gt)"/><circle cx="320.5" cy="911.4" r="3.95" fill="url(#gt)"/><circle cx="376" cy="877.5" r="3.95" fill="url(#gb)"/><circle cx="391.2" cy="878.0" r="3.95" fill="url(#gt)"/><circle cx="393" cy="891.5" r="3.95" fill="url(#gt)"/><circle cx="404" cy="882.4" r="3.95" fill="url(#gb)"/><circle cx="417.6" cy="869.4" r="3.95" fill="url(#gb)"/><circle cx="430.1" cy="856.3" r="3.95" fill="url(#gb)"/><circle cx="436.9" cy="879.3" r="3.95" fill="url(#gt)"/><circle cx="470" cy="900.6" r="3.95" fill="url(#gb)"/><circle cx="484" cy="886.9" r="3.95" fill="url(#gt)"/><circle cx="488" cy="904.6" r="3.95" fill="url(#gt)"/><circle cx="502.7" cy="895.8" r="3.95" fill="url(#gb)"/><circle cx="550.6" cy="850.0" r="3.95" fill="url(#gb)"/><circle cx="550.2" cy="876.3" r="3.95" fill="url(#gt)"/><circle cx="559.3" cy="860.5" r="3.95" fill="url(#gb)"/><circle cx="574.9" cy="861.2" r="3.95" fill="url(#gt)"/><circle cx="588.6" cy="865.0" r="3.95" fill="url(#gb)"/><circle cx="604" cy="865.3" r="3.95" fill="url(#gt)"/><circle cx="605.8" cy="878.8" r="3.95" fill="url(#gt)"/><circle cx="616.9" cy="869.9" r="3.95" fill="url(#gb)"/><circle cx="629.4" cy="878.4" r="3.95" fill="url(#gb)"/><circle cx="642.1" cy="865.0" r="3.95" fill="url(#gb)"/><circle cx="648.7" cy="888.1" r="3.95" fill="url(#gt)"/><circle cx="664" cy="875.3" r="3.95" fill="url(#gb)"/><circle cx="678.3" cy="861.5" r="3.95" fill="url(#gt)"/><circle cx="682.1" cy="879.3" r="3.95" fill="url(#gt)"/><circle cx="697" cy="870.5" r="3.95" fill="url(#gb)"/><circle cx="730.9" cy="858.1" r="3.95" fill="url(#gb)"/><circle cx="739.8" cy="868.8" r="3.95" fill="url(#gb)"/><circle cx="755" cy="869.4" r="3.95" fill="url(#gt)"/><circle cx="730.4" cy="884.4" r="3.95" fill="url(#gt)"/><circle cx="776.6" cy="860.3" r="3.95" fill="url(#gb)"/><circle cx="791.8" cy="860.9" r="3.95" fill="url(#gt)"/><circle cx="793.6" cy="874.0" r="3.95" fill="url(#gt)"/><circle cx="804.7" cy="864.8" r="3.95" fill="url(#gb)"/>
</g>
</svg>
<div class="t" style="top:78px">Arazan</div>
<div class="t" style="top:317px">Arazan, <span style="letter-spacing:-0.5px">Gold</span></div>
<div class="t" style="top:557px">Arazan, <span style="letter-spacing:-0.5px">Pink</span></div>
<div class="t" style="top:783px">Arazan, <span style="letter-spacing:-0.5px">Blue</span></div>
</body></html>
